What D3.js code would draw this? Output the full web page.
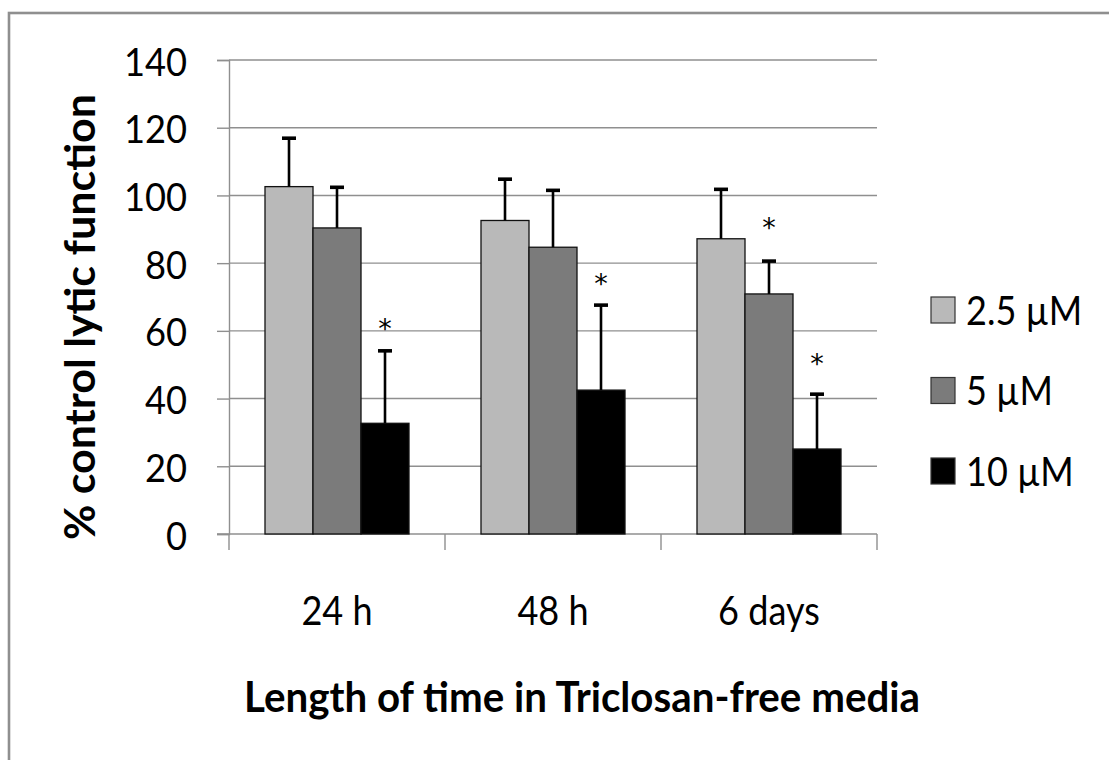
<!DOCTYPE html>
<html>
<head>
<meta charset="utf-8">
<script src="https://cdn.jsdelivr.net/npm/d3@7"></script>
<style>
  html, body { margin: 0; padding: 0; background: #fff; }
  svg { display: block; font-family: Lato, "Open Sans", sans-serif; }
</style>
</head>
<body>
<svg id="chart" width="1109" height="760"></svg>
<script>
// Time points after transfer to Triclosan-free media
const categories = ["24 h", "48 h", "6 days"];
// Triclosan pre-exposure concentrations
const series = ["2.5 µM", "5 µM", "10 µM"];
// Mean % control lytic function, one array per concentration (in category order)
const mean_2_5 = [102.6, 92.6, 87.2];
const mean_5 = [90.4, 84.7, 70.9];
const mean_10 = [32.7, 42.5, 25.1];
// Upper error bar lengths (SD)
const err_2_5 = [14.3, 12.2, 14.6];
const err_5 = [12.0, 16.8, 9.7];
const err_10 = [21.4, 25.1, 16.2];
// Significance markers: [category, series, value at which the asterisk sits]
const sigCategory = ["24 h", "48 h", "6 days", "6 days"];
const sigSeries = ["10 µM", "10 µM", "5 µM", "10 µM"];
const sigLevel = [62.6, 75.9, 92.4, 52.3];
// Y axis ticks
const yTicks = [0, 20, 40, 60, 80, 100, 120, 140];

const seriesColors = ["#b9b9b9", "#7b7b7b", "#000000"];
const means = [mean_2_5, mean_5, mean_10];
const errs = [err_2_5, err_5, err_10];

const rows = [];
series.forEach((s, si) => {
  categories.forEach((c, ci) => {
    rows.push({ category: c, series: s, value: means[si][ci], err: errs[si][ci], color: seriesColors[si] });
  });
});

const svg = d3.select("#chart");
const gridColor = "#8f8f8f";

// Squeeze glyphs horizontally by a factor, to get a compact face
function narrow(sel, factor) {
  sel.each(function () {
    const w = this.getComputedTextLength();
    d3.select(this).attr("textLength", w * factor).attr("lengthAdjust", "spacingAndGlyphs");
  });
}
// Fit a text run to a given width
function fitTo(sel, width) {
  sel.attr("textLength", width).attr("lengthAdjust", "spacingAndGlyphs");
}

// Outer chart frame
svg.append("rect")
  .attr("x", 9).attr("y", 13)
  .attr("width", 1300).attr("height", 900)
  .attr("fill", "#fff")
  .attr("stroke", gridColor).attr("stroke-width", 2.6);

const plot = { left: 229, right: 877, top: 60, bottom: 534 };

const y = d3.scaleLinear().domain([0, 140]).range([plot.bottom, plot.top]);
const x0 = d3.scaleBand().domain(categories).range([plot.left, plot.right]).paddingInner(0).paddingOuter(0);
const bw = x0.bandwidth();
const x1 = d3.scaleBand().domain(series).range([bw / 6, bw * 5 / 6]).padding(0);

// Horizontal gridlines
svg.append("g")
  .selectAll("line")
  .data(yTicks.filter(d => d > 0))
  .join("line")
  .attr("x1", plot.left).attr("x2", plot.right)
  .attr("y1", d => y(d)).attr("y2", d => y(d))
  .attr("stroke", gridColor).attr("stroke-width", 1.4);

// Y axis
const yAxis = svg.append("g")
  .attr("transform", `translate(${plot.left},0)`)
  .call(d3.axisLeft(y).tickValues(yTicks).tickSize(12).tickPadding(30));
yAxis.select(".domain").attr("stroke", gridColor).attr("stroke-width", 1.4);
yAxis.selectAll(".tick line").attr("stroke", gridColor).attr("stroke-width", 1.4);
yAxis.selectAll(".tick text")
  .attr("font-family", "Lato, sans-serif")
  .attr("font-size", 39)
  .attr("fill", "#000")
  .attr("dy", null)
  .attr("dominant-baseline", "central")
  .call(narrow, 0.93);

// X axis with category separator ticks
const xAxisG = svg.append("g");
xAxisG.append("line")
  .attr("x1", plot.left - 12).attr("x2", plot.right)
  .attr("y1", plot.bottom).attr("y2", plot.bottom)
  .attr("stroke", gridColor).attr("stroke-width", 1.4);
const sepPositions = categories.map(c => x0(c)).concat([x0(categories[categories.length - 1]) + bw]);
xAxisG.selectAll("line.sep")
  .data(sepPositions)
  .join("line")
  .attr("class", "sep")
  .attr("x1", d => d).attr("x2", d => d)
  .attr("y1", plot.bottom).attr("y2", plot.bottom + 16)
  .attr("stroke", gridColor).attr("stroke-width", 1.4);
xAxisG.selectAll("text.cat")
  .data(categories)
  .join("text")
  .attr("class", "cat")
  .attr("x", d => x0(d) + bw / 2)
  .attr("y", 625)
  .attr("text-anchor", "middle")
  .attr("font-size", 41)
  .attr("fill", "#000")
  .text(d => d)
  .call(narrow, 0.88);

// Bars
const bars = svg.append("g");
bars.selectAll("rect")
  .data(rows)
  .join("rect")
  .attr("x", d => x0(d.category) + x1(d.series))
  .attr("y", d => y(d.value))
  .attr("width", x1.bandwidth())
  .attr("height", d => y(0) - y(d.value))
  .attr("fill", d => d.color)
  .attr("stroke", "#111")
  .attr("stroke-width", 1.3);

// Upper error bars
const eb = svg.append("g").attr("stroke", "#000");
const capHalf = 7;
eb.selectAll("line.stem")
  .data(rows)
  .join("line")
  .attr("class", "stem")
  .attr("x1", d => x0(d.category) + x1(d.series) + x1.bandwidth() / 2)
  .attr("x2", d => x0(d.category) + x1(d.series) + x1.bandwidth() / 2)
  .attr("y1", d => y(d.value))
  .attr("y2", d => y(d.value + d.err))
  .attr("stroke-width", 2.6);
eb.selectAll("line.cap")
  .data(rows)
  .join("line")
  .attr("class", "cap")
  .attr("x1", d => x0(d.category) + x1(d.series) + x1.bandwidth() / 2 - capHalf)
  .attr("x2", d => x0(d.category) + x1(d.series) + x1.bandwidth() / 2 + capHalf)
  .attr("y1", d => y(d.value + d.err))
  .attr("y2", d => y(d.value + d.err))
  .attr("stroke-width", 3.6);

// Significance asterisks (centred on their level)
svg.append("g")
  .selectAll("text")
  .data(sigCategory.map((c, i) => ({ category: c, series: sigSeries[i], level: sigLevel[i] })))
  .join("text")
  .attr("x", d => x0(d.category) + x1(d.series) + x1.bandwidth() / 2)
  .attr("y", d => y(d.level) + 16)
  .attr("text-anchor", "middle")
  .attr("font-family", "'DejaVu Sans', sans-serif")
  .attr("font-size", 27)
  .attr("fill", "#000")
  .text("*");

// Axis titles
svg.append("text")
  .attr("x", 582).attr("y", 712)
  .attr("text-anchor", "middle")
  .attr("font-size", 42)
  .attr("font-weight", "bold")
  .attr("fill", "#000")
  .text("Length of time in Triclosan-free media")
  .call(fitTo, 676);

svg.append("text")
  .attr("transform", "translate(95,317) rotate(-90)")
  .attr("text-anchor", "middle")
  .attr("font-size", 42)
  .attr("font-weight", "bold")
  .attr("fill", "#000")
  .text("% control lytic function")
  .call(fitTo, 446);

// Legend
const legend = svg.append("g").attr("transform", "translate(931,0)");
const legendY = d3.scalePoint().domain(series).range([310, 471]);
const li = legend.selectAll("g")
  .data(series)
  .join("g")
  .attr("transform", d => `translate(0,${legendY(d)})`);
li.append("rect")
  .attr("x", 0).attr("y", -13)
  .attr("width", 24).attr("height", 26)
  .attr("fill", (d, i) => seriesColors[i])
  .attr("stroke", "#333").attr("stroke-width", 1.2);
li.append("text")
  .attr("x", 35).attr("y", 14.5)
  .attr("font-size", 40)
  .attr("fill", "#000")
  .text(d => d)
  .call(narrow, 0.9);
</script>
</body>
</html>
